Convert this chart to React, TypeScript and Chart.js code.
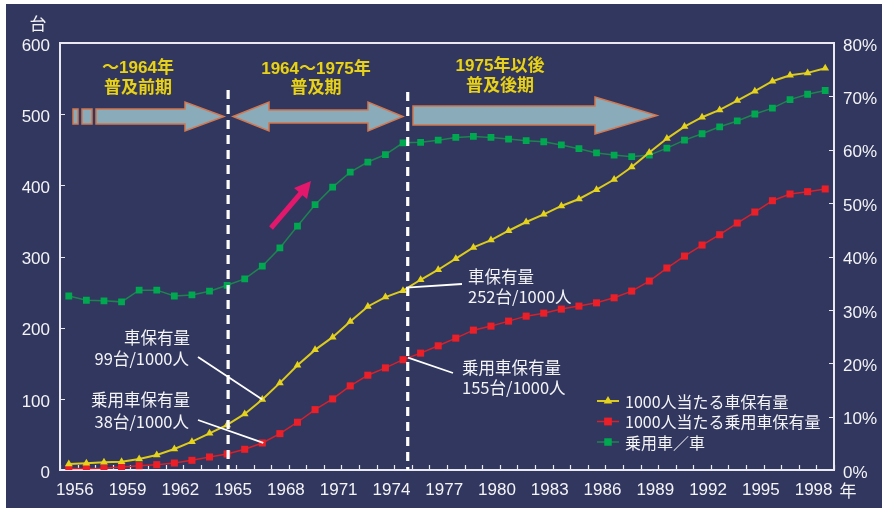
import React, { useEffect, useRef } from 'react';
import { Chart, registerables } from 'chart.js';

Chart.register(...registerables);

const years = [
  '1956', '1957', '1958', '1959', '1960', '1961', '1962', '1963', '1964', '1965',
  '1966', '1967', '1968', '1969', '1970', '1971', '1972', '1973', '1974', '1975',
  '1976', '1977', '1978', '1979', '1980', '1981', '1982', '1983', '1984', '1985',
  '1986', '1987', '1988', '1989', '1990', '1991', '1992', '1993', '1994', '1995',
  '1996', '1997', '1998', '1999',
];

// 1000人当たる車保有量 (台)
const carsPer1000 = [
  8.4, 9.4, 10.8, 11.7, 15.5, 21.1, 29.5, 39.8, 51.6, 63.3,
  78.8, 99, 122.4, 147.3, 168.8, 186.7, 208.7, 229.8, 243, 252,
  267.3, 281.4, 296.9, 312.8, 323.1, 336.2, 348.5, 359.2, 371, 380.8,
  393.9, 408.2, 425.8, 446, 465.7, 482.6, 495.7, 506, 519.1, 532.3,
  546.3, 554.7, 558, 564.5,
];

// 1000人当たる乗用車保有量 (台)
const passengerPer1000 = [
  2, 2.2, 2.5, 4.2, 6.1, 7.5, 9.8, 13.6, 18.3, 22.5,
  29.1, 38, 51.1, 67.1, 84.8, 99.9, 118.2, 133.2, 143.5, 155,
  164.2, 174.5, 185.3, 196.5, 202.2, 209.2, 216.2, 220.4, 226.1, 230.3,
  234.9, 242, 251.4, 265.5, 283.8, 300.6, 316.1, 330.6, 347, 362.5,
  378.4, 387.8, 391.1, 394.9,
];

// 乗用車／車 (%)
const passengerShare = [
  32.6, 31.8, 31.7, 31.5, 33.7, 33.7, 32.6, 32.8, 33.5, 34.6,
  35.8, 38.2, 41.6, 45.7, 49.7, 53.0, 55.8, 57.7, 59.1, 61.3,
  61.4, 61.8, 62.3, 62.5, 62.3, 62.0, 61.7, 61.5, 60.9, 60.2,
  59.4, 59.0, 58.7, 59.0, 60.3, 61.8, 63.0, 64.3, 65.4, 66.7,
  67.8, 69.4, 70.4, 71.1,
];

const leftTicks = [0, 100, 200, 300, 400, 500, 600];
const rightTicks = [0, 10, 20, 30, 40, 50, 60, 70, 80];

const seriesNames = ['1000人当たる車保有量', '1000人当たる乗用車保有量', '乗用車／車'];

const NAVY = '#31375f';
const WHITE = '#f4f4f6';
const TEXT_YELLOW = '#e6d21e';
const ARROW_FILL = '#8aabb9';
const ARROW_STROKE = '#d4774e';
const NUM_FONT = '"Liberation Sans", Arial, "Noto Sans CJK JP", sans-serif';
const JP_FONT = '"Noto Sans CJK JP", "Liberation Sans", sans-serif';

function poly(ctx: CanvasRenderingContext2D, pts: number[][]) {
  ctx.beginPath();
  ctx.moveTo(pts[0][0], pts[0][1]);
  for (let i = 1; i < pts.length; i++) ctx.lineTo(pts[i][0], pts[i][1]);
  ctx.closePath();
  ctx.fill();
  ctx.stroke();
}

function drawMarker(ctx: CanvasRenderingContext2D, style: string, x: number, y: number, r: number, color: string) {
  ctx.fillStyle = color;
  ctx.beginPath();
  if (style === 'triangle') {
    const h = r * 1.5;
    ctx.moveTo(x, y - r);
    ctx.lineTo(x + r * 0.866, y + r * 0.5);
    ctx.lineTo(x - r * 0.866, y + r * 0.5);
    ctx.closePath();
    void h;
  } else {
    const s = r * Math.SQRT1_2;
    ctx.rect(x - s, y - s, 2 * s, 2 * s);
  }
  ctx.fill();
}

const decorPlugin = {
  id: 'decor',
  beforeDraw(chart: any) {
    const ctx: CanvasRenderingContext2D = chart.ctx;
    ctx.save();
    ctx.fillStyle = '#ffffff';
    ctx.fillRect(0, 0, chart.width, chart.height);
    ctx.fillStyle = NAVY;
    ctx.fillRect(6, 4, chart.width - 6, 504);
    ctx.restore();
  },
  beforeDatasetsDraw(chart: any) {
    const ctx: CanvasRenderingContext2D = chart.ctx;
    const { left, right, top, bottom } = chart.chartArea;
    const xs = chart.scales.x;
    const ys = chart.scales.y;
    const ys1 = chart.scales.y1;
    ctx.save();
    ctx.strokeStyle = '#e9e9ef';
    ctx.lineWidth = 2;
    ctx.strokeRect(left, top, right - left, bottom - top);
    ctx.lineWidth = 1.2;
    ctx.beginPath();
    leftTicks.forEach((v) => {
      const y = Math.round(ys.getPixelForValue(v)) + 0.5;
      ctx.moveTo(left, y);
      ctx.lineTo(left + 5, y);
    });
    rightTicks.forEach((v) => {
      const y = Math.round(ys1.getPixelForValue(v)) + 0.5;
      ctx.moveTo(right - 5, y);
      ctx.lineTo(right, y);
    });
    for (let i = 0; i <= years.length; i++) {
      const x = Math.round(xs.getPixelForValue(i - 0.5)) + 0.5;
      ctx.moveTo(x, bottom);
      ctx.lineTo(x, bottom - 5);
    }
    ctx.stroke();
    ctx.restore();
  },
  afterDatasetsDraw(chart: any) {
    const ctx: CanvasRenderingContext2D = chart.ctx;
    const { bottom } = chart.chartArea;
    const xs = chart.scales.x;
    const ys = chart.scales.y;
    ctx.save();

    // period dividers
    ctx.strokeStyle = '#ffffff';
    ctx.lineWidth = 3.2;
    ctx.setLineDash([9, 6]);
    const d1 = xs.getPixelForValue(years.indexOf('1965')) + 1;
    const d2 = xs.getPixelForValue(years.indexOf('1975')) + 4.7;
    ctx.beginPath();
    ctx.moveTo(d1, 90);
    ctx.lineTo(d1, bottom);
    ctx.moveTo(d2, 92);
    ctx.lineTo(d2, bottom);
    ctx.stroke();
    ctx.setLineDash([]);

    // period arrows
    ctx.fillStyle = ARROW_FILL;
    ctx.strokeStyle = ARROW_STROKE;
    ctx.lineWidth = 1.5;
    ctx.lineJoin = 'miter';
    ctx.fillRect(73, 109, 5, 15);
    ctx.strokeRect(73, 109, 5, 15);
    ctx.fillRect(82, 109, 10, 15);
    ctx.strokeRect(82, 109, 10, 15);
    poly(ctx, [[96, 109], [185, 109], [185, 102], [224, 116.5], [185, 131], [185, 124], [96, 124]]);
    poly(ctx, [[233, 116.5], [269, 102], [269, 110], [368, 110], [368, 102], [403, 116.5], [368, 131], [368, 123], [269, 123], [269, 131]]);
    poly(ctx, [[413, 106], [595, 106], [595, 97], [657, 115.5], [595, 134], [595, 125], [413, 125]]);

    // pink trend arrow
    ctx.strokeStyle = '#e3186c';
    ctx.fillStyle = '#e3186c';
    ctx.lineWidth = 5;
    ctx.lineCap = 'butt';
    ctx.beginPath();
    ctx.moveTo(271, 228);
    ctx.lineTo(301, 193);
    ctx.stroke();
    ctx.beginPath();
    ctx.moveTo(311, 181);
    ctx.lineTo(307, 199);
    ctx.lineTo(294, 188);
    ctx.closePath();
    ctx.fill();

    // period captions
    ctx.fillStyle = TEXT_YELLOW;
    ctx.textAlign = 'center';
    ctx.textBaseline = 'middle';
    ctx.shadowColor = 'rgba(90,70,0,0.7)';
    ctx.shadowOffsetX = 0.8;
    ctx.shadowOffsetY = 0.8;
    ctx.font = `bold 17px ${NUM_FONT}`;
    ctx.fillText('～1964年', 138, 68);
    ctx.fillText('普及前期', 138, 88);
    ctx.fillText('1964～1975年', 316, 69);
    ctx.fillText('普及期', 316, 88);
    ctx.fillText('1975年以後', 500, 66);
    ctx.fillText('普及後期', 500, 86);
    ctx.shadowColor = 'transparent';
    ctx.shadowOffsetX = 0;
    ctx.shadowOffsetY = 0;

    // leader lines
    const i67 = years.indexOf('1967');
    const i75 = years.indexOf('1975');
    const ax67 = xs.getPixelForValue(i67);
    const ax75 = xs.getPixelForValue(i75);
    ctx.strokeStyle = '#ffffff';
    ctx.lineWidth = 1.8;
    ctx.beginPath();
    ctx.moveTo(198, 357);
    ctx.lineTo(ax67, ys.getPixelForValue(carsPer1000[i67]));
    ctx.moveTo(198, 420);
    ctx.lineTo(ax67 + 1, ys.getPixelForValue(passengerPer1000[i67]));
    ctx.moveTo(ax75 + 3, ys.getPixelForValue(carsPer1000[i75]) - 3);
    ctx.lineTo(462, 284);
    ctx.moveTo(ax75 + 5, ys.getPixelForValue(passengerPer1000[i75]) - 2);
    ctx.lineTo(453, 373);
    ctx.stroke();

    // value notes
    ctx.fillStyle = WHITE;
    ctx.font = `16.5px ${JP_FONT}`;
    ctx.textBaseline = 'middle';
    ctx.textAlign = 'right';
    ctx.fillText('車保有量', 190, 338);
    ctx.fillText('99台/1000人', 189, 359);
    ctx.fillText('乗用車保有量', 190, 400);
    ctx.fillText('38台/1000人', 189, 422);
    ctx.textAlign = 'left';
    ctx.fillText('車保有量', 468, 277);
    ctx.fillText('252台/1000人', 468, 297);
    ctx.fillText('乗用車保有量', 462, 368);
    ctx.fillText('155台/1000人', 462, 388);

    // axis unit labels
    ctx.font = `17px ${JP_FONT}`;
    ctx.textAlign = 'center';
    ctx.fillText('台', 38, 24);
    ctx.fillText('年', 848, 491);

    // legend
    const rows = [401, 421.5, 442];
    ctx.font = `16px ${JP_FONT}`;
    ctx.textAlign = 'left';
    chart.data.datasets.forEach((ds: any, i: number) => {
      const y = rows[i];
      ctx.strokeStyle = ds.borderColor;
      ctx.lineWidth = ds.borderWidth;
      ctx.beginPath();
      ctx.moveTo(597, y);
      ctx.lineTo(619, y);
      ctx.stroke();
      drawMarker(ctx, ds.pointStyle, 608, y, ds.pointRadius + 0.5, ds.pointBackgroundColor);
      ctx.fillStyle = WHITE;
      ctx.fillText(seriesNames[i], 625, y + 0.5);
    });

    ctx.restore();
  },
};

export default function App() {
  const ref = useRef<HTMLCanvasElement>(null);

  useEffect(() => {
    if (!ref.current) return;
    const tickFont = { family: NUM_FONT, size: 17 };
    const chart = new Chart(ref.current, {
      type: 'line',
      data: {
        labels: years,
        datasets: [
          {
            label: seriesNames[0],
            data: carsPer1000,
            yAxisID: 'y',
            borderColor: '#dccb1b',
            borderWidth: 2,
            pointStyle: 'triangle',
            pointRadius: 4.5,
            pointBackgroundColor: '#e4d21c',
            pointBorderColor: '#e4d21c',
            pointBorderWidth: 0,
            tension: 0,
          },
          {
            label: seriesNames[1],
            data: passengerPer1000,
            yAxisID: 'y',
            borderColor: '#d8202a',
            borderWidth: 1.5,
            pointStyle: 'rect',
            pointRadius: 5,
            pointBackgroundColor: '#ea1f28',
            pointBorderColor: '#ea1f28',
            pointBorderWidth: 0,
            tension: 0,
          },
          {
            label: seriesNames[2],
            data: passengerShare,
            yAxisID: 'y1',
            borderColor: '#1d8450',
            borderWidth: 1.5,
            pointStyle: 'rect',
            pointRadius: 4.8,
            pointBackgroundColor: '#00a84f',
            pointBorderColor: '#00a84f',
            pointBorderWidth: 0,
            tension: 0,
          },
        ],
      },
      options: {
        responsive: false,
        animation: false,
        devicePixelRatio: 1,
        layout: { padding: { top: 43, left: 0, right: 0, bottom: 0 } },
        plugins: {
          legend: { display: false },
          tooltip: { enabled: false },
        },
        scales: {
          x: {
            type: 'category',
            offset: true,
            grid: { display: false, drawTicks: false, drawOnChartArea: false },
            border: { display: false },
            ticks: {
              autoSkip: false,
              maxRotation: 0,
              minRotation: 0,
              padding: 10,
              labelOffset: 6,
              color: WHITE,
              font: tickFont,
              callback: function (this: any, v: any, i: number) {
                return i % 3 === 0 ? this.getLabelForValue(v) : '';
              },
            },
            afterFit: (s: any) => {
              s.height = 43;
            },
          },
          y: {
            type: 'linear',
            position: 'left',
            min: 0,
            max: 600,
            grid: { display: false, drawTicks: false, drawOnChartArea: false },
            border: { display: false },
            ticks: {
              stepSize: 100,
              padding: 10,
              labelOffset: 3,
              color: WHITE,
              font: tickFont,
            },
            afterFit: (s: any) => {
              s.width = 60;
            },
          },
          y1: {
            type: 'linear',
            position: 'right',
            min: 0,
            max: 80,
            grid: { display: false, drawTicks: false, drawOnChartArea: false },
            border: { display: false },
            ticks: {
              stepSize: 10,
              padding: 9,
              labelOffset: 3,
              color: WHITE,
              font: tickFont,
              callback: (v: any) => `${v}%`,
            },
            afterFit: (s: any) => {
              s.width = 48;
            },
          },
        },
      },
      plugins: [decorPlugin],
    });
    return () => chart.destroy();
  }, []);

  return (
    <div style={{ position: 'fixed', left: 0, top: 0, width: 882, height: 513 }}>
      <canvas ref={ref} width={882} height={513} style={{ display: 'block', width: 882, height: 513 }} />
    </div>
  );
}
